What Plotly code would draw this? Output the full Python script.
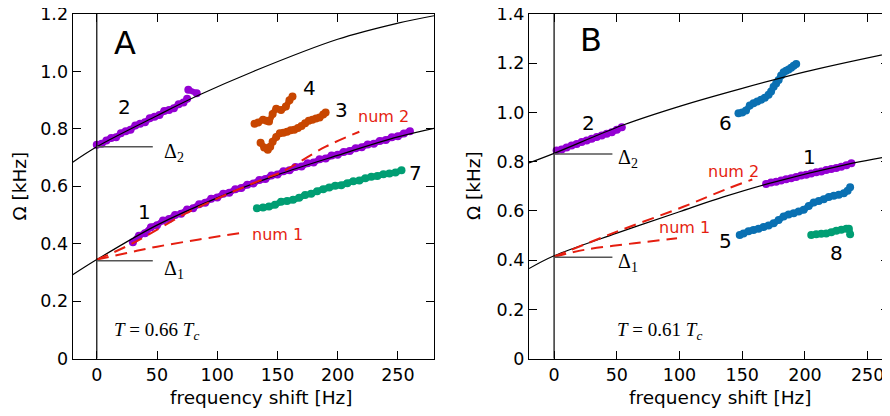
import plotly.graph_objects as go

# ---------------- data: panel A ----------------
a_up_x = [-20, 0, 50, 84, 130, 200, 250, 280]
a_up_y = [0.684, 0.738, 0.846, 0.916, 1.0, 1.112, 1.168, 1.194]
a_lo_x = [-20, 0, 50, 100, 150, 200, 250, 280]
a_lo_y = [0.292, 0.345, 0.465, 0.560, 0.640, 0.708, 0.772, 0.802]
a_num1_x = [0, 25, 50, 85, 123]
a_num1_y = [0.345, 0.368, 0.390, 0.415, 0.440]
a_num2_x = [0, 30, 74, 110, 140, 154, 190, 218]
a_num2_y = [0.345, 0.402, 0.506, 0.576, 0.628, 0.651, 0.738, 0.790]

a2_x = [0, 4, 8, 12, 16, 20, 24, 28, 32, 36, 40, 44, 48, 52, 56, 60, 64, 68, 72, 75]
a2_y = [0.745, 0.748, 0.760, 0.768, 0.771, 0.785, 0.792, 0.797, 0.812, 0.818,
        0.823, 0.837, 0.842, 0.848, 0.862, 0.866, 0.872, 0.886, 0.892, 0.905]
a2_out_x = [76, 83]
a2_out_y = [0.936, 0.924]
a1_x = [30, 35, 40, 45, 50, 55, 60, 65, 70, 75, 80, 85, 90, 95, 100, 105, 110, 115,
        120, 125, 130, 135, 140, 145, 150, 155, 160, 165, 170, 175, 180, 185, 190,
        195, 200, 205, 210, 215, 220, 225, 230, 235, 240, 245, 250, 255, 260]
a1_y = [0.405, 0.428, 0.437, 0.458, 0.465, 0.481, 0.486, 0.500, 0.505, 0.519,
        0.524, 0.538, 0.543, 0.557, 0.561, 0.574, 0.578, 0.590, 0.594, 0.606,
        0.610, 0.622, 0.626, 0.638, 0.641, 0.653, 0.656, 0.667, 0.669, 0.680,
        0.683, 0.694, 0.697, 0.707, 0.710, 0.720, 0.723, 0.733, 0.736, 0.746,
        0.748, 0.758, 0.761, 0.771, 0.774, 0.784, 0.792]
a4_x = [131, 134, 138, 141, 143, 146, 149, 153, 157, 160, 162.5]
a4_y = [0.818, 0.822, 0.832, 0.828, 0.826, 0.852, 0.870, 0.866, 0.878, 0.900, 0.913]
a3_x = [136, 139, 142, 144, 146, 149, 152, 155, 158, 161, 164, 167, 170, 173, 176,
        179, 182, 185, 188, 190]
a3_y = [0.752, 0.735, 0.727, 0.738, 0.755, 0.772, 0.785, 0.787, 0.790, 0.795,
        0.797, 0.803, 0.810, 0.820, 0.828, 0.832, 0.836, 0.840, 0.850, 0.857]
a7_x = [133, 138, 143, 148, 153, 158, 163, 168, 173, 178, 183, 188, 193, 198, 203,
        208, 213, 218, 223, 228, 233, 238, 243, 248, 253]
a7_y = [0.524, 0.526, 0.530, 0.536, 0.546, 0.549, 0.553, 0.560, 0.570, 0.574,
        0.583, 0.590, 0.596, 0.602, 0.604, 0.611, 0.618, 0.620, 0.628, 0.633,
        0.636, 0.642, 0.645, 0.648, 0.656]

# ---------------- data: panel B ----------------
b_up_x = [-20, 0, 55, 100, 150, 200, 267]
b_up_y = [0.795, 0.834, 0.949, 1.025, 1.098, 1.165, 1.240]
b_lo_x = [-20, 0, 50, 100, 135, 170, 238, 267]
b_lo_y = [0.366, 0.418, 0.510, 0.597, 0.657, 0.710, 0.794, 0.822]
b_num1_x = [0, 24, 64, 98]
b_num1_y = [0.414, 0.442, 0.469, 0.489]
b_num2_x = [0, 50, 103, 138, 158]
b_num2_y = [0.414, 0.516, 0.617, 0.690, 0.728]

b2_x = [2, 6, 10, 14, 18, 22, 26, 30, 34, 38, 42, 46, 50, 54]
b2_y = [0.846, 0.850, 0.858, 0.866, 0.872, 0.880, 0.886, 0.893, 0.900, 0.907,
        0.914, 0.920, 0.930, 0.940]
b6_x = [147, 150, 153, 156, 159, 162, 165, 168, 171, 173, 175, 177, 179, 181, 183,
        185, 187, 189, 191, 193]
b6_y = [0.997, 1.000, 1.008, 1.028, 1.038, 1.045, 1.052, 1.060, 1.072, 1.085,
        1.105, 1.118, 1.132, 1.150, 1.163, 1.170, 1.175, 1.182, 1.190, 1.197]
b1_x = [169, 173, 177, 181, 185, 189, 193, 197, 201, 205, 209, 213, 217, 221, 225,
        229, 233, 237]
b1_y = [0.710, 0.716, 0.719, 0.724, 0.729, 0.733, 0.738, 0.744, 0.747, 0.752,
        0.757, 0.760, 0.766, 0.770, 0.775, 0.780, 0.786, 0.794]
b5_x = [148, 151, 155, 159, 163, 167, 171, 175, 179, 183, 187, 191, 195, 199, 203,
        207, 211, 215, 219, 223, 227, 231, 234, 236]
b5_y = [0.502, 0.508, 0.518, 0.523, 0.528, 0.535, 0.541, 0.550, 0.563, 0.578,
        0.586, 0.591, 0.598, 0.605, 0.620, 0.634, 0.640, 0.648, 0.657, 0.662,
        0.666, 0.672, 0.682, 0.696]
b8_x = [205, 209, 213, 217, 221, 225, 229, 233, 235, 236]
b8_y = [0.502, 0.505, 0.507, 0.509, 0.514, 0.520, 0.524, 0.528, 0.528, 0.505]

x_ticks = [0, 50, 100, 150, 200, 250]
x_tick_text = ["0", "50", "100", "150", "200", "250"]
ya_ticks = [0, 0.2, 0.4, 0.6, 0.8, 1.0, 1.2]
ya_tick_text = ["0", "0.2", "0.4", "0.6", "0.8", "1.0", "1.2"]
yb_ticks = [0, 0.2, 0.4, 0.6, 0.8, 1.0, 1.2, 1.4]
yb_tick_text = ["0", "0.2", "0.4", "0.6", "0.8", "1.0", "1.2", "1.4"]

PURPLE = "#9400D3"
ORANGE = "#C84600"
GREEN = "#009E73"
BLUE = "#0A70B2"
RED = "#E51E10"
SANS = "DejaVu Sans"
SERIF = "Liberation Serif"

# the page has an 8px body margin: figure is 882x408 placed at (8, 8)
W, H, OFF = 882, 408, 8


def px_x(p):
    return (p - OFF) / W


def px_y(p):
    return (H - (p - OFF)) / H


fig = go.Figure()


def band(x, y, color, xa, ya, mode="lines+markers"):
    fig.add_trace(go.Scatter(x=x, y=y, mode=mode, xaxis=xa, yaxis=ya,
                             line=dict(color=color, width=6, shape="spline"),
                             marker=dict(color=color, size=8),
                             hoverinfo="skip", showlegend=False))


def curve(x, y, xa, ya, color="black", width=1.2, dash=None):
    fig.add_trace(go.Scatter(x=x, y=y, mode="lines", xaxis=xa, yaxis=ya,
                             line=dict(color=color, width=width, shape="spline", dash=dash),
                             hoverinfo="skip", showlegend=False))


# panel A
band(a2_x, a2_y, PURPLE, "x", "y")
band(a2_out_x, a2_out_y, PURPLE, "x", "y")
band(a1_x, a1_y, PURPLE, "x", "y")
band(a4_x, a4_y, ORANGE, "x", "y")
band(a3_x, a3_y, ORANGE, "x", "y")
band(a7_x, a7_y, GREEN, "x", "y")
curve(a_up_x, a_up_y, "x", "y")
curve(a_lo_x, a_lo_y, "x", "y")
curve(a_num1_x, a_num1_y, "x", "y", color=RED, width=2, dash="12px,7px")
curve(a_num2_x, a_num2_y, "x", "y", color=RED, width=2, dash="12px,7px")

# panel B
band(b2_x, b2_y, PURPLE, "x2", "y2")
band(b6_x, b6_y, BLUE, "x2", "y2")
band(b1_x, b1_y, PURPLE, "x2", "y2")
band(b5_x, b5_y, BLUE, "x2", "y2")
band(b8_x, b8_y, GREEN, "x2", "y2")
curve(b_up_x, b_up_y, "x2", "y2")
curve(b_lo_x, b_lo_y, "x2", "y2")
curve(b_num1_x, b_num1_y, "x2", "y2", color=RED, width=2, dash="12px,7px")
curve(b_num2_x, b_num2_y, "x2", "y2", color=RED, width=2, dash="12px,7px")

shapes = []
for xr, yr, top, d2, d1 in [("x", "y", 1.2, 0.738, 0.341), ("x2", "y2", 1.4, 0.831, 0.412)]:
    shapes.append(dict(type="line", xref=xr, yref=yr, x0=0, x1=0, y0=0, y1=top,
                       line=dict(color="black", width=1.2)))
    shapes.append(dict(type="line", xref=xr, yref=yr, x0=0, x1=46.5, y0=d2, y1=d2,
                       line=dict(color="#555555", width=1.5)))
    shapes.append(dict(type="line", xref=xr, yref=yr, x0=0, x1=46.5, y0=d1, y1=d1,
                       line=dict(color="#555555", width=1.5)))

ann = []


def label(text, x, y, xr, yr, size=20, color="black", family=SANS):
    ann.append(dict(text=text, x=x, y=y, xref=xr, yref=yr, showarrow=False,
                    font=dict(size=size, color=color, family=family),
                    xanchor="center", yanchor="middle"))


# panel A labels
label("A", 23.4, 1.099, "x", "y", size=32)
label("2", 23.4, 0.877, "x", "y")
label("1", 40, 0.511, "x", "y")
label("4", 176.3, 0.942, "x", "y")
label("3", 203.5, 0.866, "x", "y")
label("7", 264.5, 0.646, "x", "y")
label("num 2", 237.8, 0.842, "x", "y", size=16, color=RED)
label("num 1", 149.8, 0.432, "x", "y", size=16, color=RED)
label("Δ<sub>2</sub>", 64, 0.719, "x", "y", size=20, family=SERIF)
label("Δ<sub>1</sub>", 64, 0.312, "x", "y", size=20, family=SERIF)
label("<i>T</i> = 0.66 <i>T</i><sub><i>c</i></sub>", 49.4, 0.096, "x", "y", size=19, family=SERIF)

# panel B labels
label("B", 29.2, 1.294, "x2", "y2", size=32)
label("2", 27.8, 0.956, "x2", "y2")
label("6", 136.5, 0.956, "x2", "y2")
label("1", 204, 0.820, "x2", "y2")
label("5", 136.5, 0.477, "x2", "y2")
label("8", 225.3, 0.429, "x2", "y2")
label("num 2", 142.8, 0.760, "x2", "y2", size=16, color=RED)
label("num 1", 103.9, 0.531, "x2", "y2", size=16, color=RED)
label("Δ<sub>2</sub>", 59, 0.812, "x2", "y2", size=20, family=SERIF)
label("Δ<sub>1</sub>", 59, 0.391, "x2", "y2", size=20, family=SERIF)
label("<i>T</i> = 0.61 <i>T</i><sub><i>c</i></sub>", 84, 0.111, "x2", "y2", size=19, family=SERIF)

# axis titles
for cx in [261.5, 720.5]:
    ann.append(dict(text="frequency shift [Hz]", x=px_x(cx), y=px_y(397), xref="paper",
                    yref="paper", showarrow=False, xanchor="center", yanchor="middle",
                    font=dict(size=18.5, family=SANS, color="black")))
for cx in [18.5, 473]:
    ann.append(dict(text="Ω [kHz]", x=px_x(cx), y=px_y(186), xref="paper", yref="paper",
                    showarrow=False, xanchor="center", yanchor="middle", textangle=-90,
                    font=dict(size=18.5, family=SANS, color="black")))

axis_common = dict(showgrid=False, zeroline=False, showline=True, linecolor="black",
                   linewidth=1.3, mirror="ticks", ticks="inside", ticklen=8,
                   tickcolor="black", tickwidth=1.2, automargin=False,
                   ticklabeloverflow="allow",
                   tickfont=dict(size=17.5, family=SANS, color="black"))

ydom = [px_y(358.7), px_y(14)]
fig.update_layout(
    width=W, height=H, margin=dict(l=0, r=0, t=0, b=0, autoexpand=False),
    plot_bgcolor="white", paper_bgcolor="white",
    xaxis=dict(domain=[px_x(72.7), px_x(434)], range=[-20, 280], tickvals=x_ticks,
               ticktext=x_tick_text, anchor="y", **axis_common),
    yaxis=dict(domain=ydom, range=[0, 1.2], tickvals=ya_ticks, ticktext=ya_tick_text,
               anchor="x", **axis_common),
    xaxis2=dict(domain=[px_x(529), px_x(889)], range=[-20, 267], tickvals=x_ticks,
                ticktext=x_tick_text, anchor="y2", **axis_common),
    yaxis2=dict(domain=ydom, range=[0, 1.4], tickvals=yb_ticks, ticktext=yb_tick_text,
                anchor="x2", **axis_common),
    shapes=shapes, annotations=ann,
)

fig.write_html("out.html")
